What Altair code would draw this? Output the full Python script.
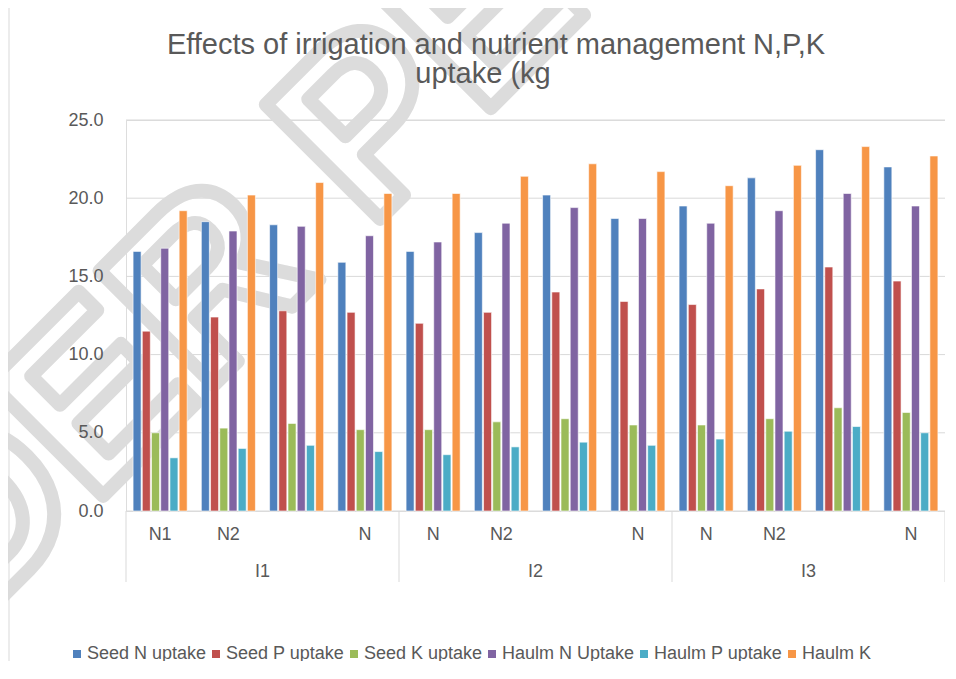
import altair as alt
import pandas as pd

# ---- data ----
groups = [f"g{i}" for i in range(1, 13)]
irrigation = ["I1"] * 4 + ["I2"] * 4 + ["I3"] * 4
nutrient_labels = ["N1", "N2", "", "N", "N", "N2", "", "N", "N", "N2", "", "N"]
irr_labels = ["I1", "I2", "I3"]

series = ["Seed N uptake", "Seed P uptake", "Seed K uptake",
          "Haulm N Uptake", "Haulm P uptake", "Haulm K"]
colors = ["#4F81BD", "#C0504D", "#9BBB59", "#8064A2", "#4BACC6", "#F79646"]

seed_n = [16.6, 18.5, 18.3, 15.9, 16.6, 17.8, 20.2, 18.7, 19.5, 21.3, 23.1, 22.0]
seed_p = [11.5, 12.4, 12.8, 12.7, 12.0, 12.7, 14.0, 13.4, 13.2, 14.2, 15.6, 14.7]
seed_k = [5.0, 5.3, 5.6, 5.2, 5.2, 5.7, 5.9, 5.5, 5.5, 5.9, 6.6, 6.3]
haulm_n = [16.8, 17.9, 18.2, 17.6, 17.2, 18.4, 19.4, 18.7, 18.4, 19.2, 20.3, 19.5]
haulm_p = [3.4, 4.0, 4.2, 3.8, 3.6, 4.1, 4.4, 4.2, 4.6, 5.1, 5.4, 5.0]
haulm_k = [19.2, 20.2, 21.0, 20.3, 20.3, 21.4, 22.2, 21.7, 20.8, 22.1, 23.3, 22.7]

y_ticks = [0, 5, 10, 15, 20, 25]
title_lines = ["Effects of irrigation and nutrient management N,P,K", "uptake (kg"]
watermark = ["UNDER PEER REVIEW"]

values = [seed_n, seed_p, seed_k, haulm_n, haulm_p, haulm_k]
rows = []
for s, vals in zip(series, values):
    for g, v in zip(groups, vals):
        rows.append({"grp": g, "series": s, "value": v})
df = pd.DataFrame(rows)

lab1 = pd.DataFrame({"grp": groups, "label": nutrient_labels})
lab2 = pd.DataFrame({"grp": [groups[2], groups[6], groups[10]], "label": irr_labels})
sep_start = pd.DataFrame({"grp": [groups[0], groups[4], groups[8]]})
sep_end = pd.DataFrame({"grp": [groups[11]]})
grid_df = pd.DataFrame({"value": y_ticks})

FONT = "Liberation Sans"
GREY = "#595959"
LINE = "#d9d9d9"

xscale = alt.Scale(domain=groups, paddingInner=0, paddingOuter=0)
yscale = alt.Scale(domain=[0, 25], nice=False)


def yaxis():
    return alt.Axis(values=y_ticks, format=".1f", title=None, domain=False,
                    ticks=False, grid=False, zindex=1, labelFontSize=18,
                    labelFont=FONT, labelColor=GREY, labelPadding=23)


# horizontal gridlines through the y scale (full plot width)
grid = alt.Chart(grid_df).mark_rule(color=LINE, strokeWidth=1).encode(
    y=alt.Y("value:Q", scale=yscale, axis=yaxis()),
)

bars = alt.Chart(df).mark_bar(stroke="white", strokeWidth=0.6).encode(
    x=alt.X("grp:N", scale=xscale, axis=None),
    xOffset=alt.XOffset("series:N", sort=series,
                        scale=alt.Scale(paddingInner=0.13, paddingOuter=0.77)),
    y=alt.Y("value:Q", scale=yscale, axis=yaxis()),
    color=alt.Color("series:N", sort=series,
                    scale=alt.Scale(domain=series, range=colors),
                    legend=alt.Legend(title=None, orient="none", legendX=-58,
                                      legendY=525, direction="horizontal",
                                      symbolType="square", symbolSize=64,
                                      symbolStrokeWidth=0, labelFontSize=18,
                                      labelFont=FONT, labelColor=GREY,
                                      labelOffset=1, columnPadding=-10,
                                      padding=0)),
)

text1 = alt.Chart(lab1).mark_text(fontSize=18, font=FONT, color=GREY,
                                  baseline="middle").encode(
    x=alt.X("grp:N", scale=xscale, axis=None),
    y=alt.value(415),
    text="label:N",
)
text2 = alt.Chart(lab2).mark_text(fontSize=18, font=FONT, color=GREY,
                                  baseline="middle").encode(
    x=alt.X("grp:N", scale=xscale, axis=None, bandPosition=0),
    y=alt.value(452),
    text="label:N",
)
rule1 = alt.Chart(sep_start).mark_rule(color=LINE, strokeWidth=1).encode(
    x=alt.X("grp:N", scale=xscale, axis=None, bandPosition=0),
    y=alt.value(391), y2=alt.value(462),
)
rule2 = alt.Chart(sep_end).mark_rule(color=LINE, strokeWidth=1).encode(
    x=alt.X("grp:N", scale=xscale, axis=None, bandPosition=1),
    y=alt.value(391), y2=alt.value(462),
)

# chart frame (left and top border lines)
frame_left = alt.Chart(sep_end).mark_rule(color=LINE, strokeWidth=1).encode(
    x=alt.value(-117), y=alt.value(-113), y2=alt.value(560))
frame_top = alt.Chart(sep_end).mark_rule(color=LINE, strokeWidth=1).encode(
    x=alt.value(-117), x2=alt.value(821), y=alt.value(-113))

# title (two lines)
t1 = alt.Chart(pd.DataFrame({"t": [title_lines[0]]})).mark_text(
    fontSize=29, font=FONT, color=GREY, align="center",
    baseline="alphabetic").encode(x=alt.value(370), y=alt.value(-66), text="t:N")
t2 = alt.Chart(pd.DataFrame({"t": [title_lines[1]]})).mark_text(
    fontSize=29, font=FONT, color=GREY, align="center",
    baseline="alphabetic").encode(x=alt.value(357), y=alt.value(-37), text="t:N")

# watermark (outlined letters)
wm = alt.Chart(pd.DataFrame({"t": watermark})).mark_text(
    fontSize=235, font=FONT, fontWeight="bold", align="left",
    baseline="alphabetic", angle=315,
    fill="transparent", stroke="#dcdcdc", strokeWidth=14,
    strokeJoin="round").encode(
    x=alt.value(-394), y=alt.value(747), text="t:N")

chart = alt.layer(grid, wm, frame_left, frame_top, bars, rule1, rule2, text1,
                  text2, t1, t2).properties(
    width=819, height=391,
    autosize=alt.AutoSizeParams(type="none"),
    padding={"left": 118, "top": 112, "right": 0, "bottom": 150},
).configure_view(stroke=None).configure(background="white")

chart.save("out.html", embed_options={"renderer": "svg", "actions": False})
